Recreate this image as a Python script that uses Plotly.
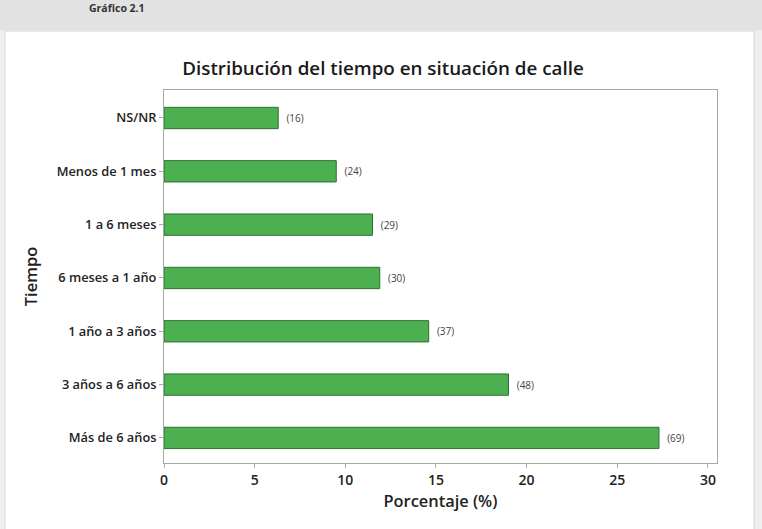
import plotly.graph_objects as go

categorias = ["Más de 6 años", "3 años a 6 años", "1 año a 3 años", "6 meses a 1 año",
              "1 a 6 meses", "Menos de 1 mes", "NS/NR"]
porcentajes = [27.3, 19.0, 14.6, 11.9, 11.5, 9.5, 6.3]
conteos = [69, 48, 37, 30, 29, 24, 16]
x_ticks = [0, 5, 10, 15, 20, 25, 30]

W, H = 762, 529
L, R, T, B = 164, 717, 90, 463
pw, ph = R - L, B - T

def px(x):
    return (x - L) / pw

def py(y):
    return (B - y) / ph

fig = go.Figure()
fig.add_trace(go.Bar(
    y=categorias, x=porcentajes, orientation="h",
    customdata=conteos,
    texttemplate="  (%{customdata})", textposition="outside",
    textfont=dict(family="Open Sans", size=10, color="#444444"),
    marker=dict(color="#4caf50", line=dict(color="#2f6f33", width=1)),
    width=0.4, cliponaxis=False, hoverinfo="skip",
))

shapes = [
    dict(type="rect", xref="paper", yref="paper", x0=px(0), x1=px(W), y0=py(0), y1=py(30),
         fillcolor="#e2e2e2", line=dict(width=0), layer="below"),
    dict(type="rect", xref="paper", yref="paper", x0=px(5), x1=px(754), y0=py(31), y1=py(530),
         fillcolor="white", line=dict(color="#d6d6d6", width=1), layer="below"),
]

fig.update_layout(
    width=W, height=H,
    margin=dict(l=L, r=W - R, t=T, b=H - B),
    paper_bgcolor="#efefef", plot_bgcolor="#f1f1f1",
    showlegend=False,
    shapes=shapes,
    title=dict(text="Distribución del tiempo en situación de calle",
               x=px(383), xref="paper", xanchor="center",
               y=1 - 68 / H, yanchor="middle",
               font=dict(family="Open Sans", size=18.8, color="#1a1a1a", weight=600)),
    xaxis=dict(range=[0, 30.5], tickvals=x_ticks, showgrid=False, zeroline=False,
               showline=True, linecolor="#a8a8a8", mirror=True,
               ticks="outside", ticklen=4, tickcolor="#a8a8a8",
               tickfont=dict(family="Open Sans", size=14, color="#222222", weight=600),
               title=dict(text="Porcentaje (%)", standoff=6,
                          font=dict(family="Open Sans", size=16.4, color="#222222", weight=600))),
    yaxis=dict(categoryorder="array", categoryarray=categorias,
               range=[-0.47, 6.525], showgrid=False, zeroline=False,
               showline=True, linecolor="#a8a8a8", mirror=True,
               ticks="outside", ticklen=4, tickcolor="#a8a8a8",
               tickfont=dict(family="Open Sans", size=12.8, color="#222222", weight=600),
               title=dict(text="Tiempo", standoff=14,
                          font=dict(family="Open Sans", size=16.5, color="#222222", weight=600))),
    annotations=[dict(text="Gráfico 2.1", xref="paper", yref="paper", x=px(87), y=py(8),
                      xanchor="left", yanchor="middle", showarrow=False,
                      font=dict(family="Open Sans", size=10.5, color="#333333", weight=700))],
)

fig.write_html("out.html")
